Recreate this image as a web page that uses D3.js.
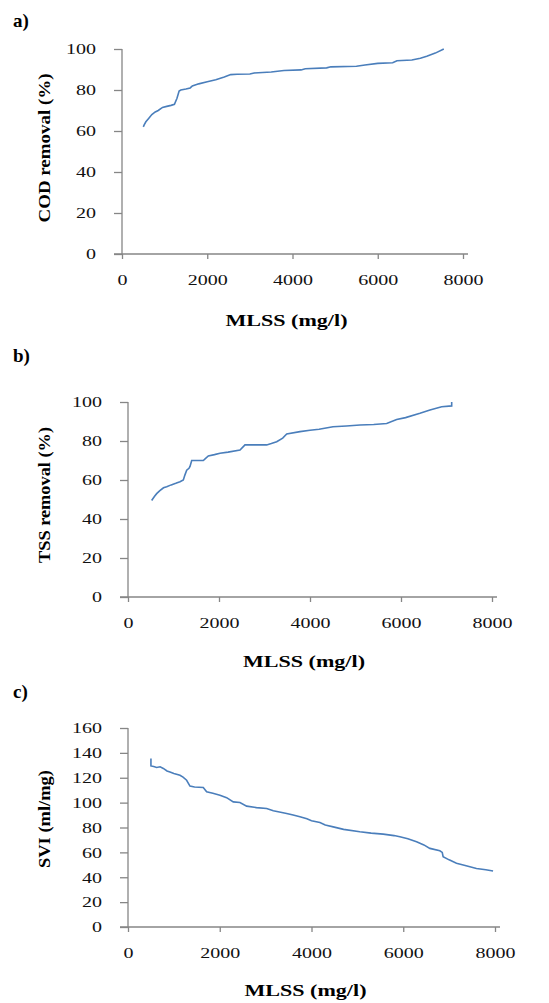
<!DOCTYPE html>
<html>
<head>
<meta charset="utf-8">
<script src="https://cdn.jsdelivr.net/npm/d3@7"></script>
<style>
  html, body { margin: 0; padding: 0; background: #fff; }
  svg { display: block; }
</style>
</head>
<body>
<svg id="chart" width="549" height="1003"></svg>
<script>
// a) COD removal vs MLSS
const codMlss = [500,520,560,620,700,780,850,950,1050,1150,1230,1290,1340,1380,1500,1600,1650,1800,2000,2200,2400,2550,2700,3000,3100,3500,3800,4200,4300,4800,4900,5500,5700,6000,6350,6450,6800,7000,7150,7350,7550]
const codRemoval = [62,63,64.5,66,68,69.3,70,71.5,72,72.5,73,76,79.5,80,80.5,81,82,83,84,85,86.3,87.5,87.7,87.8,88.3,88.8,89.5,89.8,90.4,90.8,91.3,91.6,92.2,93,93.3,94.3,94.6,95.5,96.5,98,100]

// b) TSS removal vs MLSS
const tssMlss = [520,580,630,700,780,850,950,1050,1143,1216,1250,1290,1340,1363,1400,1500,1655,1700,1765,1900,2022,2200,2462,2571,2800,3048,3150,3268,3400,3488,3780,4000,4200,4505,4800,5099,5400,5685,5905,6100,6417,6637,6894,7114,7114]
const tssRemoval = [49.5,51.5,53,54.5,56,56.5,57.5,58.3,59.1,60,62.5,65,66,67,70,70,70,71,72.3,73,73.7,74.3,75.4,78,78,78,78.7,79.6,81.5,83.6,84.8,85.5,86,87.3,87.7,88.2,88.5,89,91,92,94.2,95.9,97.6,98,100]

// c) SVI vs MLSS
const sviMlss = [500,500,560,625,700,770,850,915,1000,1133,1200,1278,1351,1450,1641,1714,1850,2004,2150,2295,2440,2586,2800,3022,3167,3300,3458,3600,3748,3900,4000,4183,4300,4473,4700,5054,5300,5563,5800,5926,6100,6290,6450,6580,6797,6850,6869,7000,7160,7350,7596,7800,7958]
const sviValues = [135.5,129.5,129,128.3,128.8,127.5,125.5,124.7,123.5,122,120.5,118,113.3,112.5,112.2,108.7,107.5,106,104,100.6,100.1,97.2,96,95.3,93.4,92.5,91.3,90,88.6,87,85.5,84,82,80.5,78.5,76.6,75.5,74.7,73.5,72.5,71,68.5,66,63.2,61.3,60,56.5,54,51.2,49.5,47.1,46,45]

const xTicks = [0, 2000, 4000, 6000, 8000]
const removalTicks = [0, 20, 40, 60, 80, 100]
const sviTicks = [0, 20, 40, 60, 80, 100, 120, 140, 160]

const panels = [
    { tag: 'a)', tagY: 27, xs: codMlss, ys: codRemoval, yTicks: removalTicks, yMax: 100,
      left: 122, right: 463, top: 49, bottom: 254, yTitle: 'COD removal (%)', yTitleLen: 149, yTitleY: 148, xTitleY: 326 },
    { tag: 'b)', tagY: 362, xs: tssMlss, ys: tssRemoval, yTicks: removalTicks, yMax: 100,
      left: 128, right: 492, top: 402, bottom: 597, yTitle: 'TSS removal (%)', yTitleLen: 136, yTitleY: 495, xTitleY: 667 },
    { tag: 'c)', tagY: 698, xs: sviMlss, ys: sviValues, yTicks: sviTicks, yMax: 160,
      left: 128, right: 495, top: 728, bottom: 927, yTitle: 'SVI (ml/mg)', yTitleLen: 98, yTitleY: 819, xTitleY: 996 }
]

const svg = d3.select('#chart')
const axisColor = '#868686'
const lineColor = '#4a7ebb'
const serif = '"Liberation Serif", "Times New Roman", serif'

panels.forEach(p => {
    const x = d3.scaleLinear().domain([0, 8000]).range([p.left, p.right])
    const y = d3.scaleLinear().domain([0, p.yMax]).range([p.bottom, p.top])

    // Panel tag
    svg.append('text')
        .attr('x', 13).attr('y', p.tagY)
        .attr('font-family', serif).attr('font-weight', 'bold').attr('font-size', '19px')
        .text(p.tag)

    // X axis
    const gx = svg.append('g')
        .attr('transform', `translate(0,${p.bottom})`)
        .call(d3.axisBottom(x).tickValues(xTicks).tickFormat(d3.format('d'))
            .tickSize(5).tickSizeOuter(0).tickPadding(15))
    gx.select('.domain').attr('d', `M${p.left - 8},0H${p.right + 5}`)

    // Y axis
    const gy = svg.append('g')
        .attr('transform', `translate(${p.left},0)`)
        .call(d3.axisLeft(y).tickValues(p.yTicks).tickFormat(d3.format('d'))
            .tickSize(8).tickSizeOuter(0).tickPadding(18))
    gy.select('.domain').attr('d', `M0,${p.top}V${p.bottom}`)

    ;[gx, gy].forEach(g => {
        g.selectAll('.domain').attr('stroke', axisColor).attr('stroke-width', 1.3)
        g.selectAll('.tick line').attr('stroke', axisColor).attr('stroke-width', 1.3)
        g.selectAll('text')
            .attr('font-family', serif).attr('font-size', '15px').attr('fill', '#111')
            .attr('textLength', d => String(d).length * 10)
            .attr('lengthAdjust', 'spacingAndGlyphs')
    })

    // Data line
    const pts = p.xs.map((v, i) => [v, p.ys[i]])
    svg.append('path')
        .datum(pts)
        .attr('fill', 'none')
        .attr('stroke', lineColor)
        .attr('stroke-width', 1.6)
        .attr('d', d3.line().x(d => x(d[0])).y(d => y(d[1])))

    // Axis titles
    svg.append('text')
        .attr('x', (p.left + p.right) / 2 - 6).attr('y', p.xTitleY)
        .attr('text-anchor', 'middle')
        .attr('font-family', serif).attr('font-weight', 'bold').attr('font-size', '17px')
        .attr('textLength', 122).attr('lengthAdjust', 'spacingAndGlyphs')
        .text('MLSS (mg/l)')

    svg.append('text')
        .attr('transform', `translate(50,${p.yTitleY}) rotate(-90)`)
        .attr('text-anchor', 'middle')
        .attr('font-family', serif).attr('font-weight', 'bold').attr('font-size', '17px')
        .attr('textLength', p.yTitleLen).attr('lengthAdjust', 'spacingAndGlyphs')
        .text(p.yTitle)
})
</script>
</body>
</html>
